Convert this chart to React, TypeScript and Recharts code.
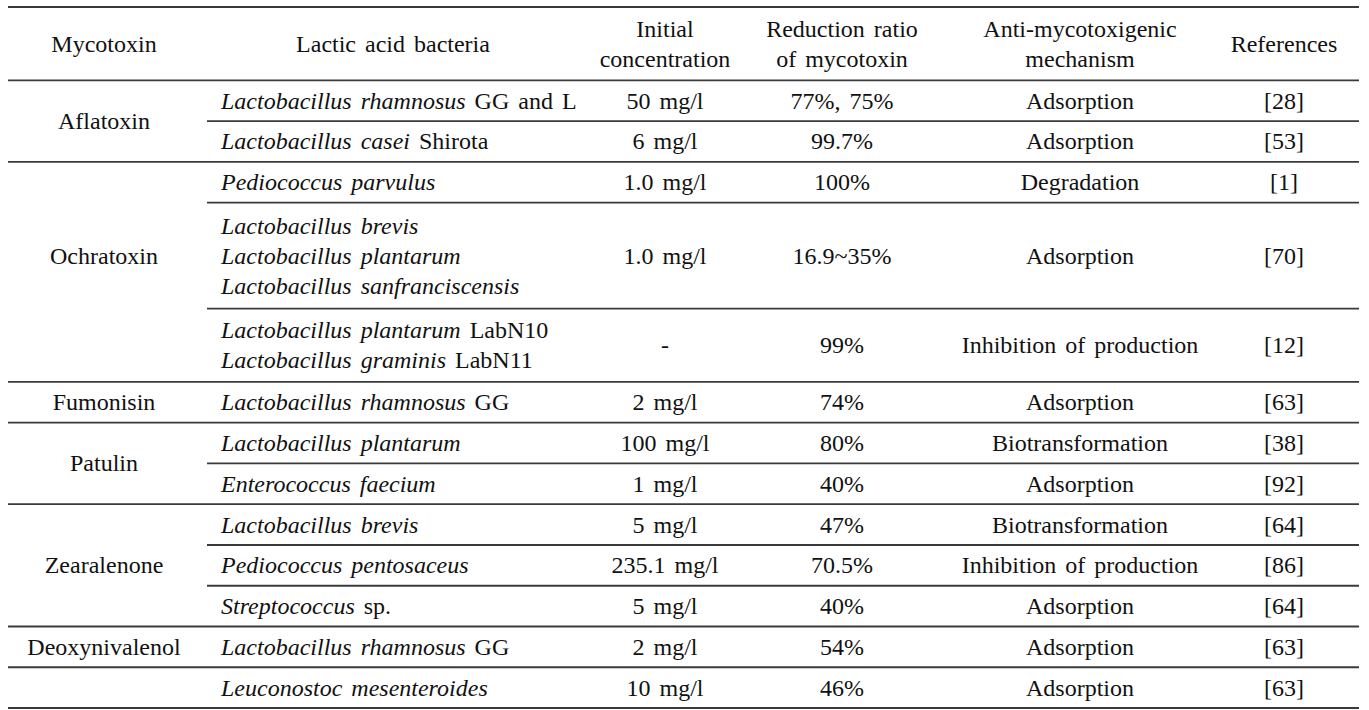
import React from 'react';
import { ScatterChart, XAxis, YAxis, Scatter, ReferenceLine } from 'recharts';

// ---------------- data ----------------
const headers: string[][] = [
  ['Mycotoxin'],
  ['Lactic acid bacteria'],
  ['Initial', 'concentration'],
  ['Reduction ratio', 'of mycotoxin'],
  ['Anti-mycotoxigenic', 'mechanism'],
  ['References'],
];

const groupNames: string[] = ['Aflatoxin', 'Ochratoxin', 'Fumonisin', 'Patulin', 'Zearalenone', 'Deoxynivalenol', ''];
const groupSizes: number[] = [2, 3, 1, 2, 3, 1, 1];
// rows (within the group) over which the group label is centred
const groupLabelSpans: [number, number][] = [[0, 1], [1, 1], [0, 0], [0, 1], [0, 2], [0, 0], [0, 0]];

// each bacteria cell: list of lines, each line = [italic part, roman part]
const bacteria: [string, string][][] = [
  [['Lactobacillus rhamnosus', ' GG and L']],
  [['Lactobacillus casei', ' Shirota']],
  [['Pediococcus parvulus', '']],
  [['Lactobacillus brevis', ''], ['Lactobacillus plantarum', ''], ['Lactobacillus sanfranciscensis', '']],
  [['Lactobacillus plantarum', ' LabN10'], ['Lactobacillus graminis', ' LabN11']],
  [['Lactobacillus rhamnosus', ' GG']],
  [['Lactobacillus plantarum', '']],
  [['Enterococcus faecium', '']],
  [['Lactobacillus brevis', '']],
  [['Pediococcus pentosaceus', '']],
  [['Streptococcus', ' sp.']],
  [['Lactobacillus rhamnosus', ' GG']],
  [['Leuconostoc mesenteroides', '']],
];
const concentrations: string[] = ['50 mg/l', '6 mg/l', '1.0 mg/l', '1.0 mg/l', '-', '2 mg/l', '100 mg/l', '1 mg/l', '5 mg/l', '235.1 mg/l', '5 mg/l', '2 mg/l', '10 mg/l'];
const reductions: string[] = ['77%, 75%', '99.7%', '100%', '16.9~35%', '99%', '74%', '80%', '40%', '47%', '70.5%', '40%', '54%', '46%'];
const mechanisms: string[] = ['Adsorption', 'Adsorption', 'Degradation', 'Adsorption', 'Inhibition of production', 'Adsorption', 'Biotransformation', 'Adsorption', 'Biotransformation', 'Inhibition of production', 'Adsorption', 'Adsorption', 'Adsorption'];
const references: string[] = ['[28]', '[53]', '[1]', '[70]', '[12]', '[63]', '[38]', '[92]', '[64]', '[86]', '[64]', '[63]', '[63]'];

// ---------------- layout / style ----------------
const W = 1369;
const H = 710;
const FONT = '"Liberation Serif", "Times New Roman", "DejaVu Serif", serif';
const FS = 24;
const LINE_GAP = 30;
const EXTRA_LINE = 0.8;
const HEADER_UNITS = 1.8;
const COL_MYCO = 104;
const COL_BACT_HEAD = 393;
const COL_BACT_LEFT = 221;
const COL_CONC = 665;
const COL_RED = 842;
const COL_MECH = 1080;
const COL_REF = 1284;
const headerX = [COL_MYCO, COL_BACT_HEAD, COL_CONC, COL_RED, COL_MECH, COL_REF];
const LINE_LEFT = 8;
const LINE_RIGHT = 1359;
const PARTIAL_LEFT = 207;
const LINE_COLOR = '#3a3a3a';

type Seg = { t: string; it?: boolean };
type Cell = { x: number; y: number; lines: Seg[][]; anchor: 'start' | 'middle' };

const rowUnits = bacteria.map((b) => 1 + EXTRA_LINE * (b.length - 1));
const rowTops: number[] = [];
let acc = HEADER_UNITS;
rowUnits.forEach((u) => {
  rowTops.push(acc);
  acc += u;
});
const TOTAL = acc;
const rowCenter = (i: number) => rowTops[i] + rowUnits[i] / 2;

const cells: Cell[] = [];
headers.forEach((h, i) => {
  cells.push({ x: headerX[i], y: HEADER_UNITS / 2, lines: h.map((t) => [{ t }]), anchor: 'middle' });
});
bacteria.forEach((b, i) => {
  const y = rowCenter(i);
  cells.push({ x: COL_BACT_LEFT, y, lines: b.map(([it, ro]) => [{ t: it, it: true }, { t: ro }]), anchor: 'start' });
  cells.push({ x: COL_CONC, y, lines: [[{ t: concentrations[i] }]], anchor: 'middle' });
  cells.push({ x: COL_RED, y, lines: [[{ t: reductions[i] }]], anchor: 'middle' });
  cells.push({ x: COL_MECH, y, lines: [[{ t: mechanisms[i] }]], anchor: 'middle' });
  cells.push({ x: COL_REF, y, lines: [[{ t: references[i] }]], anchor: 'middle' });
});

type Rule = { y: number; full: boolean };
const rules: Rule[] = [{ y: 0, full: true }, { y: HEADER_UNITS, full: true }];
let start = 0;
groupNames.forEach((name, g) => {
  const size = groupSizes[g];
  const [a, b] = groupLabelSpans[g];
  const top = rowTops[start + a];
  const bottom = rowTops[start + b] + rowUnits[start + b];
  if (name) cells.push({ x: COL_MYCO, y: (top + bottom) / 2, lines: [[{ t: name }]], anchor: 'middle' });
  for (let r = 0; r < size; r++) {
    const idx = start + r;
    rules.push({ y: rowTops[idx] + rowUnits[idx], full: r === size - 1 });
  }
  start += size;
});

const CellText = (props: any) => {
  const { cx, cy, payload } = props;
  const n = payload.lines.length;
  return (
    <text
      x={cx}
      y={cy}
      textAnchor={payload.anchor}
      fill="#111"
      style={{ fontFamily: FONT, fontSize: FS, whiteSpace: 'pre', wordSpacing: '3px' }}
    >
      {payload.lines.map((line: Seg[], i: number) => (
        <tspan key={i} x={cx} y={cy + (i - (n - 1) / 2) * LINE_GAP} dy="0.33em">
          {line
            .filter((s) => s.t)
            .map((s, j) => (
              <tspan key={j} style={{ fontStyle: s.it ? 'italic' : 'normal', fontFamily: FONT }}>
                {s.t}
              </tspan>
            ))}
        </tspan>
      ))}
    </text>
  );
};

export default function App() {
  return (
    <div style={{ position: 'absolute', left: 0, top: 0, width: W, height: H, background: '#fff', fontFamily: FONT }}>
      <ScatterChart width={W} height={H} margin={{ top: 7, right: 0, bottom: 2, left: 0 }}>
        <XAxis type="number" dataKey="x" domain={[0, W]} allowDataOverflow hide />
        <YAxis type="number" dataKey="y" domain={[0, TOTAL]} allowDataOverflow reversed hide />
        {rules.map((r, i) => (
          <ReferenceLine
            key={i}
            segment={[
              { x: r.full ? LINE_LEFT : PARTIAL_LEFT, y: r.y },
              { x: LINE_RIGHT, y: r.y },
            ]}
            stroke={LINE_COLOR}
            strokeWidth={1.8}
            ifOverflow="visible"
          />
        ))}
        <Scatter data={cells} shape={CellText} isAnimationActive={false} />
      </ScatterChart>
    </div>
  );
}
